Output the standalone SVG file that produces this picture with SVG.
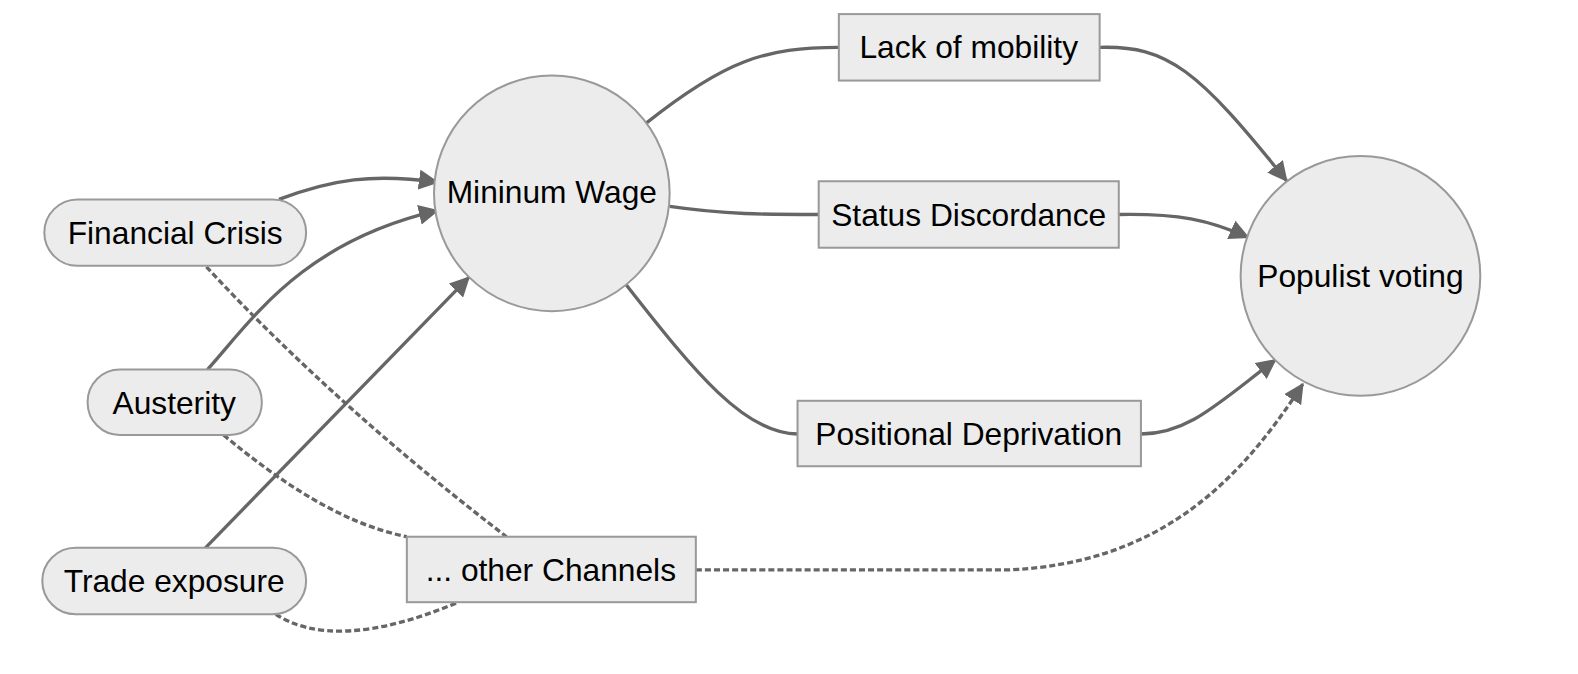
<svg xmlns="http://www.w3.org/2000/svg" width="1578" height="674" viewBox="0 0 1578 674">
<style>
.node{fill:#ececec;stroke:#999;stroke-width:2}
.lbl{font-family:"Liberation Sans",Arial,sans-serif;font-size:31.5px;fill:#000;text-anchor:middle}
.edge{fill:none;stroke:#666;stroke-width:3.3}
.dot{fill:none;stroke:#666;stroke-width:3.3;stroke-dasharray:6 3}
</style>
<defs>
<marker id="ah" viewBox="0 0 20 20" refX="19" refY="10" markerWidth="20" markerHeight="20" markerUnits="userSpaceOnUse" orient="auto">
<path d="M0,0 L20,10 L0,20 z" fill="#666"/>
</marker>
</defs>
<rect width="1578" height="674" fill="#fff"/>
<g transform="scale(1.007)">
<g id="connectors">
<path class="edge" d="M277,198 C330,178 370,172 435,181" marker-end="url(#ah)"/>
<path class="edge" d="M206,367 C250,318 300,240 435,209" marker-end="url(#ah)"/>
<path class="edge" d="M204,544 L466,275" marker-end="url(#ah)"/>
<path class="edge" d="M642,122 C720,60 760,47 833,47"/>
<path class="edge" d="M665,205 C720,213 760,213 813,213"/>
<path class="edge" d="M622,283 C690,370 740,431 792,431"/>
<path class="edge" d="M1092,47 C1160,45 1190,70 1278,180" marker-end="url(#ah)"/>
<path class="edge" d="M1111,213 C1170,212 1200,218 1240,236" marker-end="url(#ah)"/>
<path class="edge" d="M1133,431 C1180,431 1210,400 1267,357" marker-end="url(#ah)"/>
<path class="dot" d="M691,566 L1000,566 C1150,560 1230,480 1294,381" marker-end="url(#ah)"/>
<path class="dot" d="M205,265 Q330,400 503,533"/>
<path class="dot" d="M222,432 C280,480 340,520 404,533"/>
<path class="dot" d="M274,610 C310,634 370,634 455,598"/>
</g>
<g id="node-financial-crisis">
<rect class="node" x="44" y="198" width="260" height="66" rx="33" ry="33"/>
<text class="lbl" x="174" y="242">Financial Crisis</text>
</g>
<g id="node-austerity">
<rect class="node" x="87" y="367" width="173" height="65" rx="32" ry="32"/>
<text class="lbl" x="173" y="411">Austerity</text>
</g>
<g id="node-trade-exposure">
<rect class="node" x="42" y="544" width="262" height="66" rx="33" ry="33"/>
<text class="lbl" x="173" y="588">Trade exposure</text>
</g>
<g id="node-minimum-wage">
<circle class="node" cx="548" cy="192" r="117"/>
<text class="lbl" x="548" y="202">Mininum Wage</text>
</g>
<g id="node-lack-of-mobility">
<rect class="node" x="833" y="14" width="259" height="66"/>
<text class="lbl" x="962" y="58">Lack of mobility</text>
</g>
<g id="node-status-discordance">
<rect class="node" x="813" y="180" width="298" height="66"/>
<text class="lbl" x="962" y="224">Status Discordance</text>
</g>
<g id="node-positional-deprivation">
<rect class="node" x="792" y="398" width="341" height="65"/>
<text class="lbl" x="962" y="442">Positional Deprivation</text>
</g>
<g id="node-other-channels">
<rect class="node" x="404" y="533" width="287" height="65"/>
<text class="lbl" x="547" y="577">... other Channels</text>
</g>
<g id="node-populist-voting">
<circle class="node" cx="1351" cy="274" r="119"/>
<text class="lbl" x="1351" y="285">Populist voting</text>
</g>
</g>
</svg>
